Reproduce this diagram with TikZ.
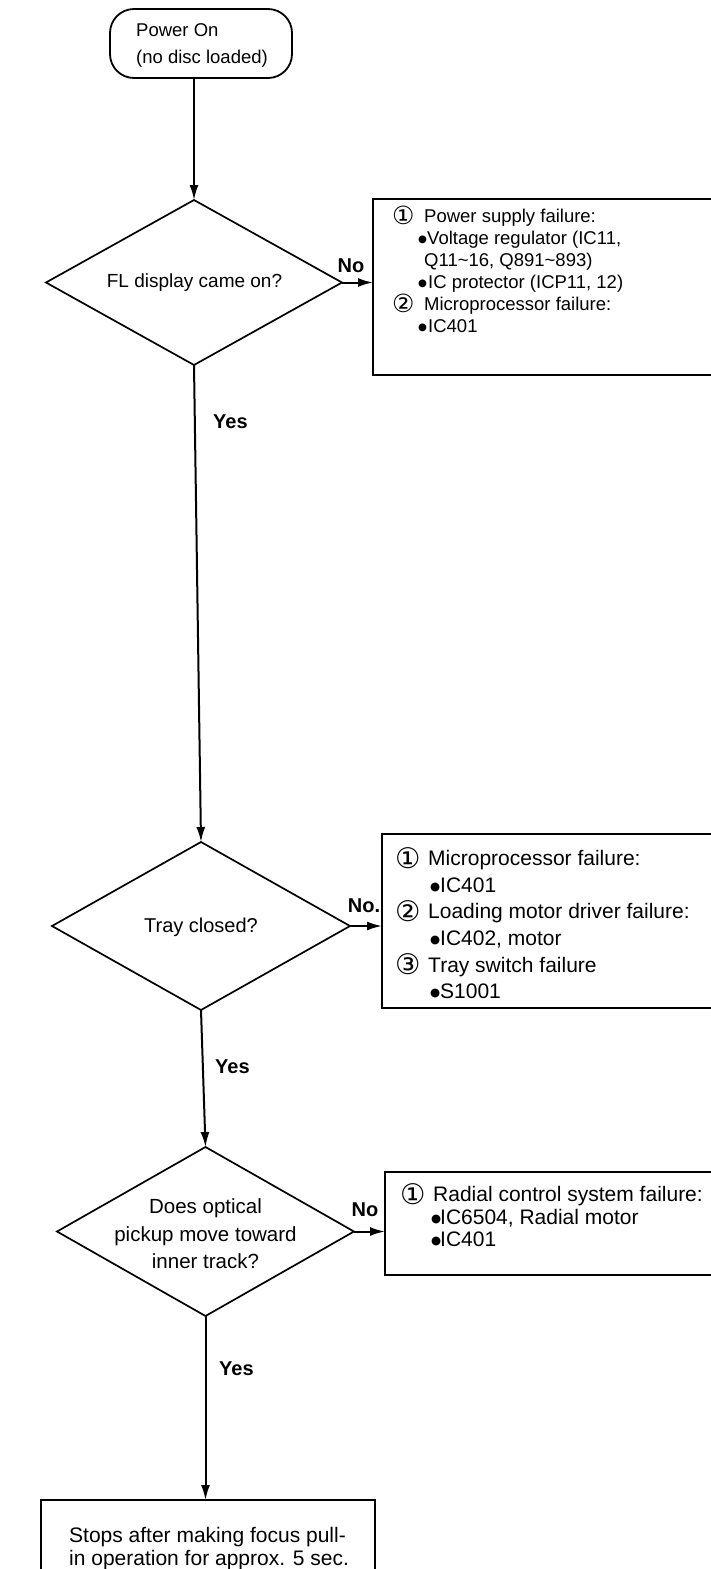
\documentclass[tikz,border=0pt]{standalone}
\usepackage{fontspec}
\setmainfont{Liberation Sans}
\newfontfamily\symf{DejaVu Sans}
\usetikzlibrary{shapes.geometric,arrows.meta}
\newcommand\cnum[1]{\raisebox{-0.12em}{\scalebox{1.35}{\symf #1}}}
\newcommand\bul{\raisebox{0.1em}{\scalebox{0.55}{\symf ●}}}
\newcommand\fs[2]{\fontsize{#1pt}{#2pt}\selectfont}
\begin{document}
\begin{tikzpicture}[x=1pt,y=-1pt,
  term/.style={rectangle, draw, rounded corners=24pt, line width=1.8pt, inner sep=0pt, outer sep=0pt},
  dia/.style={diamond, draw, line width=1.7pt, inner sep=0pt, outer sep=0pt},
  fbox/.style={rectangle, draw, line width=1.8pt, inner sep=0pt, outer sep=0pt, anchor=north west},
  txt/.style={inner sep=0pt, align=left, anchor=north west},
  ctxt/.style={inner sep=0pt, align=center},
  arr/.style={line width=2pt, -{Latex[length=15pt,width=9pt]}},
  lab/.style={inner sep=0pt, font=\bfseries\fs{20}{24}}]
\useasboundingbox (0,0) rectangle (711,1569);

% start terminal
\node[term, minimum width=182pt, minimum height=69pt] (t) at (201,43.5) {};
\node[txt, font=\fs{18.5}{27}] (tt) at (136,23) {Power On\\(no disc loaded)};

% decisions
\node[dia, minimum width=296pt, minimum height=165pt] (d1) at (194,282.5) {};
\node[ctxt, font=\fs{19}{23}] (d1t) at (194.5,283) {FL display came on?};

\node[dia, minimum width=298pt, minimum height=168pt] (d2) at (201,926) {};
\node[ctxt, font=\fs{20}{24}] (d2t) at (201,927) {Tray closed?};

\node[dia, minimum width=297pt, minimum height=169pt] (d3) at (205.5,1231.5) {};
\node[ctxt, font=\fs{20.5}{27.5}] (d3t) at (205.5,1234) {Does optical\\pickup move toward\\inner track?};

% result boxes
\node[fbox, minimum width=340pt, minimum height=176pt] (b1) at (373,199) {};
\node[txt, font=\fs{18.5}{22}] (b1t) at (392,206) {%
\makebox[32pt][l]{\cnum{①}}Power supply failure:\\
\hspace*{26pt}\makebox[9pt][l]{\bul}Voltage regulator (IC11,\\
\hspace*{32pt}Q11\textasciitilde16, Q891\textasciitilde893)\\
\hspace*{26pt}\makebox[10pt][l]{\bul}IC protector (ICP11, 12)\\
\makebox[32pt][l]{\cnum{②}}Microprocessor failure:\\
\hspace*{26pt}\makebox[10pt][l]{\bul}IC401};

\node[fbox, minimum width=331pt, minimum height=174pt] (b2) at (382,834) {};
\node[txt, font=\fs{21}{26.6}] (b2t) at (395,847) {%
\makebox[33pt][l]{\cnum{①}}Microprocessor failure:\\
\hspace*{35pt}\makebox[10pt][l]{\bul}IC401\\
\makebox[33pt][l]{\cnum{②}}Loading motor driver failure:\\
\hspace*{35pt}\makebox[10pt][l]{\bul}IC402, motor\\
\makebox[33pt][l]{\cnum{③}}Tray switch failure\\
\hspace*{35pt}\makebox[10pt][l]{\bul}S1001};

\node[fbox, minimum width=328pt, minimum height=103pt] (b3) at (385,1172) {};
\node[txt, font=\fs{21}{22.5}] (b3t) at (400,1183) {%
\makebox[33pt][l]{\cnum{①}}Radial control system failure:\\
\hspace*{31pt}\makebox[9pt][l]{\bul}IC6504, Radial motor\\
\hspace*{31pt}\makebox[9pt][l]{\bul}IC401};

% end box
\node[fbox, minimum width=334pt, minimum height=80pt] (b4) at (41,1500) {};
\node[txt, font=\fs{21}{23}] (b4t) at (69,1527) {Stops after making focus pull-\\in operation for approx. 5 sec.};

% connectors
\draw[arr] (t.south -| d1.north) -- (d1.north);
\draw[arr] (d1.south) -- (d2.north);
\draw[arr] (d2.south) -- (d3.north);
\draw[arr] (d3.south) -- (d3.south |- b4.north);
\draw[arr] (d1.east) -- (d1.east -| b1.west);
\draw[arr] (d2.east) -- (d2.east -| b2.west);
\draw[arr] (d3.east) -- (d3.east -| b3.west);

% labels
\node[lab] (no1) at (351,266) {No};
\node[lab] (no2) at (364,906) {No.};
\node[lab] (no3) at (365,1210) {No};
\node[lab, anchor=west] (y1) at (213,422) {Yes};
\node[lab, anchor=west] (y2) at (215,1067) {Yes};
\node[lab, anchor=west] (y3) at (219,1369) {Yes};
\end{tikzpicture}
\end{document}
